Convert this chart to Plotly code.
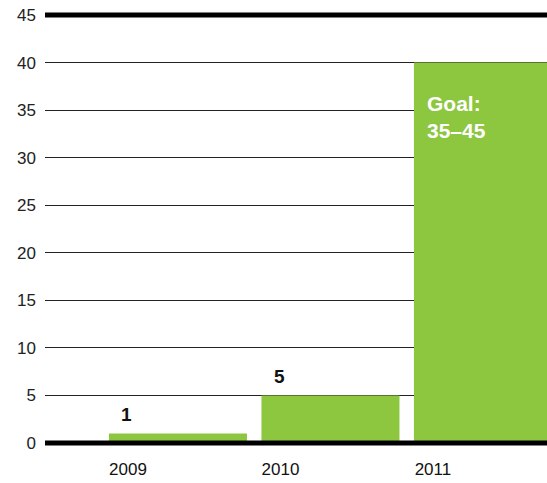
import plotly.graph_objects as go

years = ["2009", "2010", "2011"]
values = [1, 5, 40]
value_labels = ["1", "5", ""]
goal_text = "Goal:<br>35–45"
y_ticks = [0, 5, 10, 15, 20, 25, 30, 35, 40, 45]

fig = go.Figure()
fig.add_trace(go.Bar(
    x=years, y=values, width=0.905,
    marker=dict(color="#8DC63F", line=dict(width=0)),
    hoverinfo="skip",
))

font = "Liberation Sans, Arial, sans-serif"

for i, (v, lab) in enumerate(zip(values, value_labels)):
    if lab:
        fig.add_annotation(x=i, y=v, xref="x", yref="y", text="<b>%s</b>" % lab,
                           showarrow=False, xshift=-51, yanchor="bottom", yshift=6,
                           font=dict(family=font, size=19, color="#111"))

fig.add_annotation(x=years.index("2011"), y=values[2], xref="x", yref="y",
                   text="<b>%s</b>" % goal_text,
                   showarrow=False, xanchor="left", xshift=-58, yanchor="top", yshift=-27,
                   align="left", font=dict(family=font, size=21, color="white"))

# thick lines at bottom (0) and top (45) of the axis domain
for yv, w in [(0, 5), (1, 5)]:
    fig.add_shape(type="line", xref="paper", yref="paper", x0=0, x1=1, y0=yv, y1=yv,
                  line=dict(color="black", width=w))

fig.update_layout(
    width=547, height=483,
    margin=dict(l=45, r=0, t=15, b=40),
    plot_bgcolor="white", paper_bgcolor="white",
    showlegend=False,
    xaxis=dict(type="category", range=[-0.872, 2.42], showgrid=False, zeroline=False,
               showline=False, ticks="", ticklabelshift=-50, ticklabelstandoff=14,
               tickfont=dict(family=font, size=17, color="#111")),
    yaxis=dict(range=[0, 45], tickvals=y_ticks, showgrid=True, gridcolor="#222",
               gridwidth=1, zeroline=False, showline=False, ticks="",
               ticklabelstandoff=8,
               tickfont=dict(family=font, size=17, color="#222")),
)

fig.write_html("out.html", config={"displayModeBar": False},
               post_script="document.body.style.margin='0';")
